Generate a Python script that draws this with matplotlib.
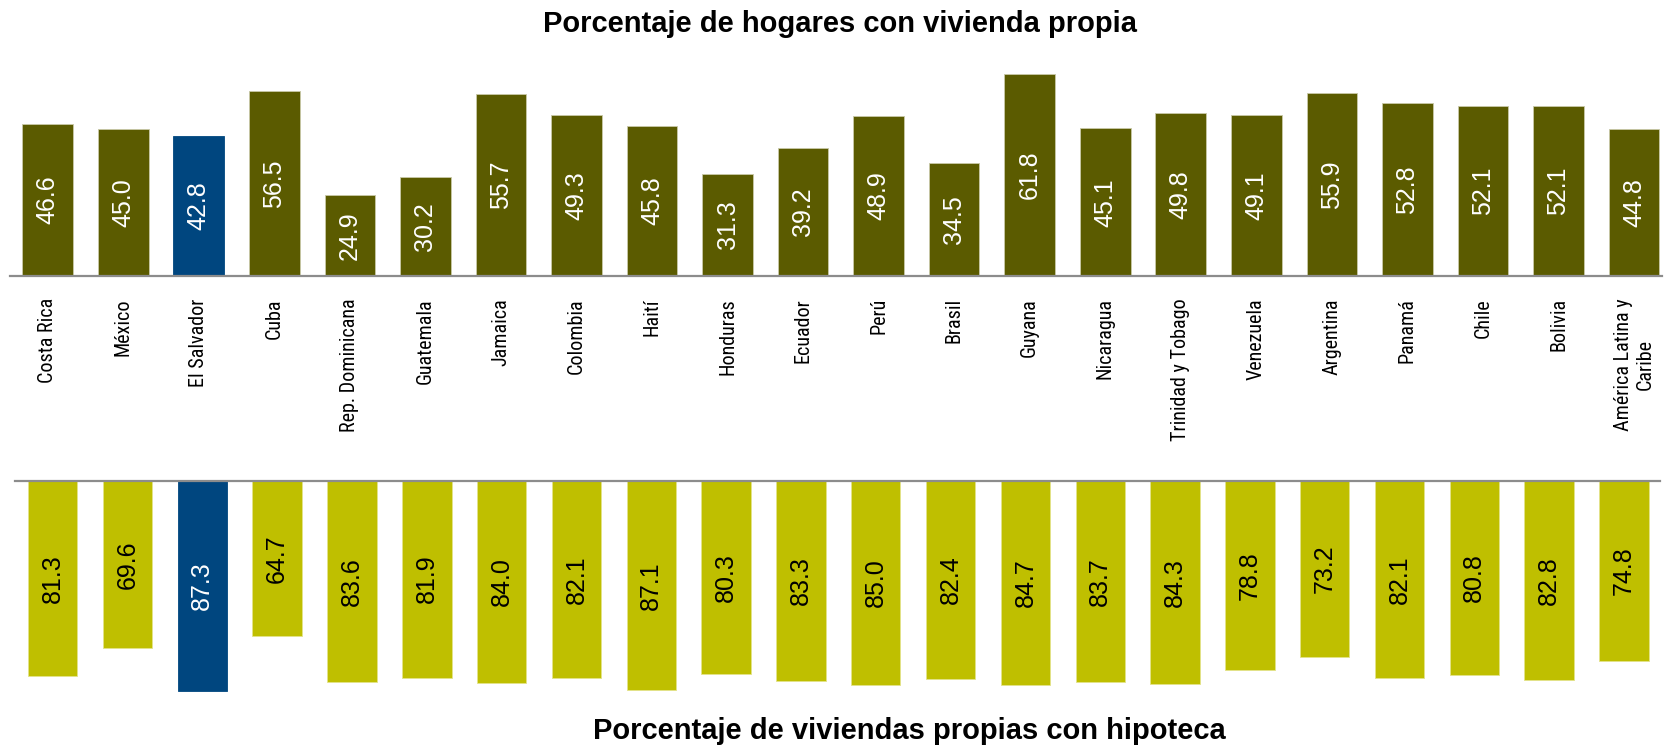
import matplotlib
matplotlib.use("Agg")
import matplotlib.pyplot as plt
from matplotlib import font_manager

categories = ["Costa Rica", "México", "El Salvador", "Cuba", "Rep. Dominicana", "Guatemala",
              "Jamaica", "Colombia", "Haití", "Honduras", "Ecuador", "Perú", "Brasil", "Guyana",
              "Nicaragua", "Trinidad y Tobago", "Venezuela", "Argentina", "Panamá", "Chile",
              "Bolivia", "América Latina y\nCaribe"]
own_home = [46.6, 45.0, 42.8, 56.5, 24.9, 30.2, 55.7, 49.3, 45.8, 31.3, 39.2, 48.9, 34.5,
            61.8, 45.1, 49.8, 49.1, 55.9, 52.8, 52.1, 52.1, 44.8]
mortgage = [81.3, 69.6, 87.3, 64.7, 83.6, 81.9, 84.0, 82.1, 87.1, 80.3, 83.3, 85.0, 82.4,
            84.7, 83.7, 84.3, 78.8, 73.2, 82.1, 80.8, 82.8, 74.8]
highlight = "El Salvador"

OLIVE = "#5B5B00"
YELLOW = "#BFBF00"
BLUE = "#00467F"

names = {f.name for f in font_manager.fontManager.ttflist}
label_family, label_size = "Liberation Sans", 12.8
for fam, size in [("Liberation Sans Narrow", 15), ("Arial Narrow", 15), ("Roboto Condensed", 14.5)]:
    if fam in names:
        label_family, label_size = fam, size
        break
plt.rcParams["font.family"] = ["Liberation Sans", "DejaVu Sans"]

W, H = 1667, 746
fig = plt.figure(figsize=(W / 100, H / 100), dpi=100)

x = list(range(len(categories)))

# Top panel
ax1 = fig.add_axes([10 / W, 1 - 276 / H, 1652 / W, 212.6 / H])
cols1 = [BLUE if c == highlight else OLIVE for c in categories]
edges1 = [BLUE if c == highlight else "#c9c9a8" for c in categories]
bars1 = ax1.bar(x, own_home, width=0.67, color=cols1, edgecolor=edges1, linewidth=0.6, zorder=2)
ax1.set_xlim(-0.499, 21.37)
ax1.set_ylim(0, 65)
for b, v in zip(bars1, own_home):
    ax1.text(b.get_x() + b.get_width() / 2, v / 2, f"{v:.1f}", rotation=90, ha="center",
             va="center", color="white", fontsize=18, zorder=3)
for s in ["top", "right", "left"]:
    ax1.spines[s].set_visible(False)
ax1.spines["bottom"].set_color("#8c8c8c")
ax1.spines["bottom"].set_linewidth(1.6)
ax1.spines["bottom"].set_zorder(4)
ax1.set_yticks([])
ax1.set_xticks(x)
ax1.set_xticklabels(categories, rotation=90, va="top", ha="center", fontsize=label_size,
                    family=[label_family, "DejaVu Sans"], multialignment="center")
ax1.tick_params(axis="x", length=0, pad=16)

# Bottom panel
ax2 = fig.add_axes([15 / W, 1 - (480.5 + 221.7) / H, 1645.3 / W, 221.7 / H])
cols2 = [BLUE if c == highlight else YELLOW for c in categories]
edges2 = [BLUE if c == highlight else "#e3e38a" for c in categories]
bars2 = ax2.bar(x, mortgage, width=0.66, color=cols2, edgecolor=edges2, linewidth=0.6, zorder=2)
ax2.set_xlim(-0.504, 21.485)
ax2.set_ylim(92, 0)
for b, v, c in zip(bars2, mortgage, categories):
    ax2.text(b.get_x() + b.get_width() / 2, v / 2, f"{v:.1f}", rotation=90, ha="center",
             va="center", color="white" if c == highlight else "black", fontsize=18, zorder=3)
for s in ["bottom", "right", "left"]:
    ax2.spines[s].set_visible(False)
ax2.spines["top"].set_color("#8c8c8c")
ax2.spines["top"].set_linewidth(1.6)
ax2.spines["top"].set_zorder(4)
ax2.set_yticks([])
ax2.set_xticks([])

fig.text(840 / W, 1 - 32 / H, "Porcentaje de hogares con vivienda propia", ha="center",
         va="baseline", fontsize=21, fontweight="bold")
fig.text(909 / W, 1 - 739 / H, "Porcentaje de viviendas propias con hipoteca", ha="center",
         va="baseline", fontsize=21, fontweight="bold")

fig.savefig("out.png", dpi=100)
